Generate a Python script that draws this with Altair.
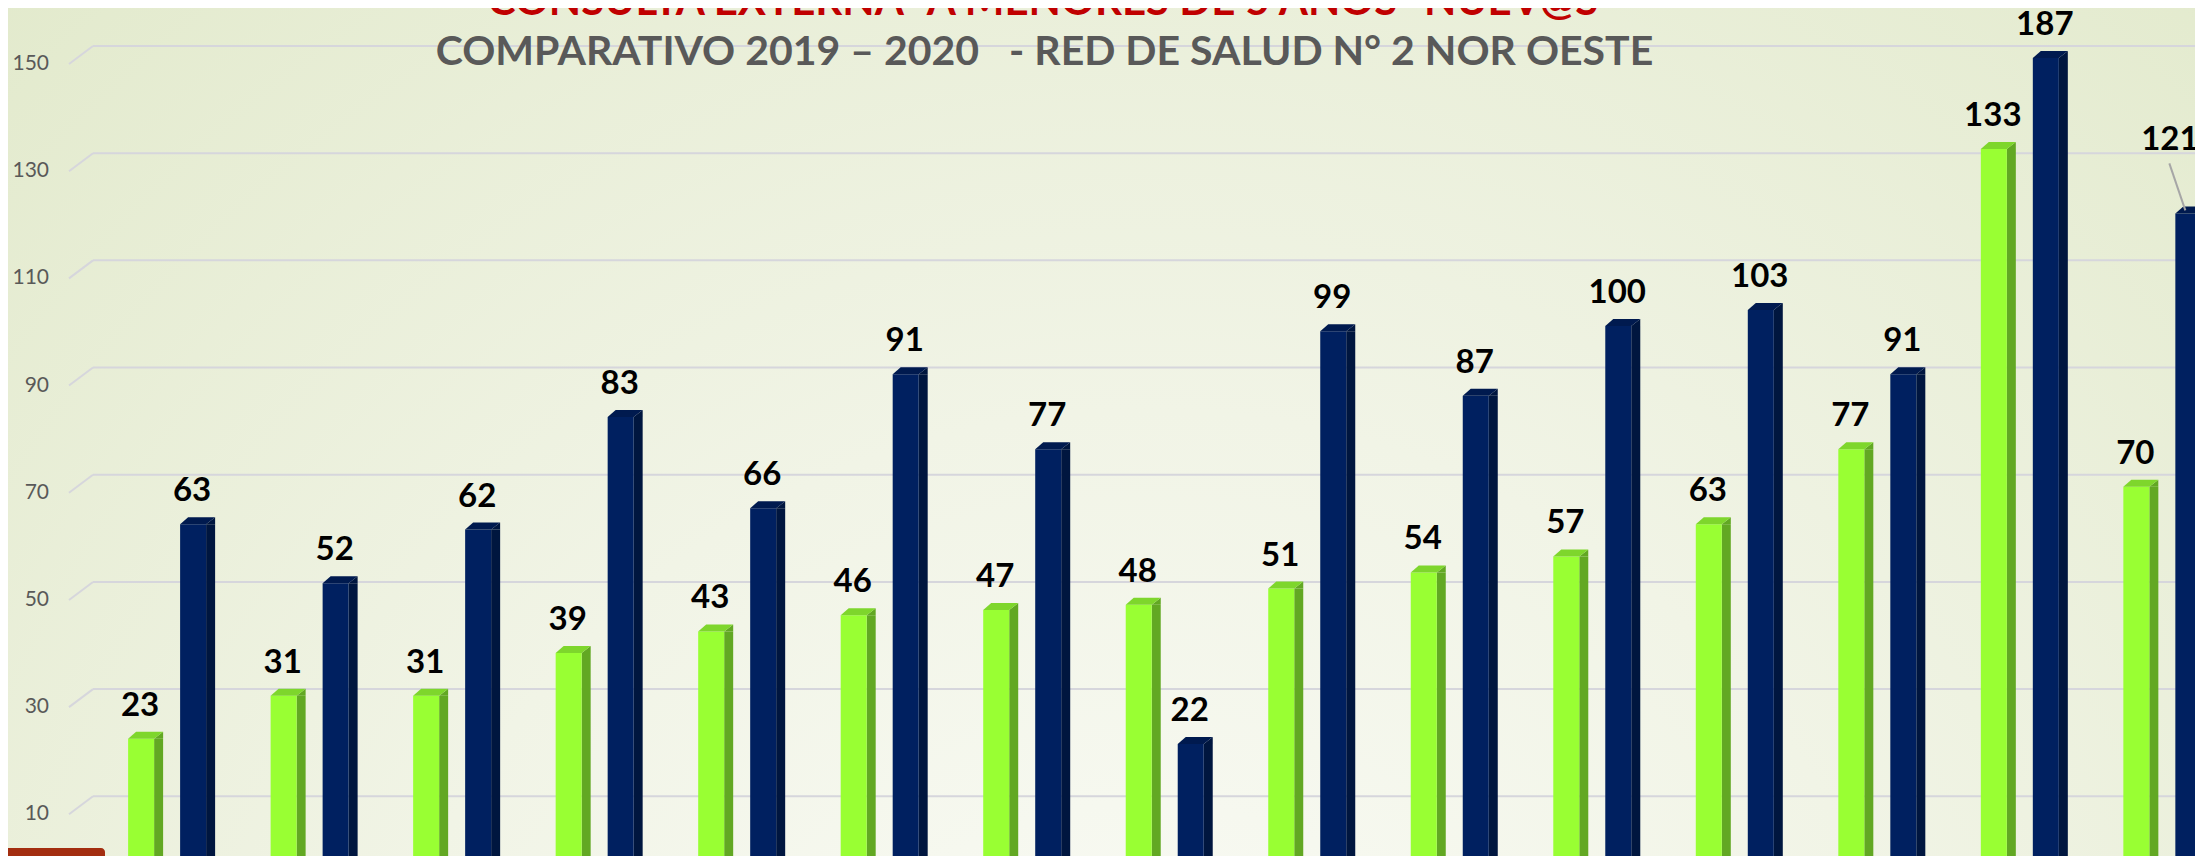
import altair as alt
import pandas as pd

# ---------------- data ----------------
groups = list(range(1, 16))
v2019 = [23, 31, 31, 39, 43, 46, 47, 48, 51, 54, 57, 63, 77, 133, 70]
v2020 = [63, 52, 62, 83, 66, 91, 77, 22, 99, 87, 100, 103, 91, 187, 121]
tick_values = [10, 30, 50, 70, 90, 110, 130, 150]
title_line1 = 'CONSULTA EXTERNA "A MENORES DE 5 AÑOS" NUEV@S'
title_line2 = "COMPARATIVO 2019 – 2020\u00a0\u00a0\u00a0- RED DE SALUD N° 2 NOR OESTE"

df19 = pd.DataFrame({"grp": groups, "value": v2019, "year": "2019"})
df20 = pd.DataFrame({"grp": groups, "value": v2020, "year": "2020"})
ticks_df = pd.DataFrame({"tick": tick_values})

# ---------------- layout / style ----------------
W, H = 2102, 798
FONT = "Lato"
GRID = "#d6d6dc"

x_enc = alt.X("grp:Q", scale=alt.Scale(domain=[0.487, 15.166], nice=False, zero=False), axis=None)
y_scale = alt.Scale(domain=[1.1, 150], nice=False, zero=False)


def yq(field):
    return alt.Y(field, scale=y_scale, axis=None)


TOP_PATH = "M -1 0 L 0.486 0 L 1 -0.4 L -0.543 -0.4 Z"
TRI_PATH = "M 0.486 0 L 1 -0.4 L 1 0 Z"


def series(df, front, side, top, off):
    base = alt.Chart(df).transform_calculate(vc="min(datum.value, 150)")
    side_bar = base.mark_bar(width=9, xOffset=off + 17.5, color=side).encode(
        x=x_enc, y=yq("vc:Q"), y2=alt.datum(0))
    front_bar = base.mark_bar(width=26, xOffset=off, color=front).encode(
        x=x_enc, y=yq("vc:Q"), y2=alt.datum(0))
    top_face = base.mark_point(shape=TOP_PATH, size=1225, filled=True, color=top,
                               opacity=1, strokeWidth=0, xOffset=off + 4.5).encode(
        x=x_enc, y=yq("vc:Q"))
    side_tri = base.mark_point(shape=TRI_PATH, size=1225, filled=True, color=side,
                               opacity=1, strokeWidth=0, xOffset=off + 4.5).encode(
        x=x_enc, y=yq("vc:Q"))
    return [side_bar, front_bar, side_tri, top_face]


LABEL_STYLE = dict(font=FONT, fontSize=33, fontWeight="bold", color="black",
                   baseline="alphabetic", align="center")


def labels(df, dx, flt=None):
    base = alt.Chart(df).transform_calculate(vc="min(datum.value, 150)")
    if flt is not None:
        base = base.transform_filter(flt)
    return base.mark_text(dx=dx, dy=-23, **LABEL_STYLE).encode(
        x=x_enc, y=yq("vc:Q"), text="value:Q")


bg = alt.Chart(pd.DataFrame({"a": [0]})).mark_rect(
    fill=alt.RadialGradient(gradient="radial", x1=0.52, y1=0.85, r1=0, x2=0.52, y2=0.85, r2=0.8,
                            stops=[alt.GradientStop(color="#fbfcf8", offset=0),
                                   alt.GradientStop(color="#f1f4e6", offset=0.45),
                                   alt.GradientStop(color="#e1e9ca", offset=1)])
).encode(x=alt.value(-85), x2=alt.value(W), y=alt.value(-50), y2=alt.value(H))

corner = alt.Chart(pd.DataFrame({"a": [0]})).mark_rect(
    color="#a32e10", cornerRadiusTopRight=6).encode(
    x=alt.value(-85), x2=alt.value(12), y=alt.value(H - 8), y2=alt.value(H))

grid = alt.Chart(ticks_df).mark_rule(color=GRID, strokeWidth=2, yOffset=-12).encode(
    x=alt.value(0), x2=alt.value(W), y=yq("tick:Q"))
diag = alt.Chart(ticks_df).mark_rule(color=GRID, strokeWidth=2, yOffset=6, y2Offset=-12).encode(
    x=alt.value(-24), x2=alt.value(0), y=yq("tick:Q"), y2="tick:Q")
ylabels = alt.Chart(ticks_df).mark_text(
    font=FONT, fontSize=21, color="#595959", align="right", baseline="middle", dy=6).encode(
    x=alt.value(-44), y=yq("tick:Q"), text="tick:Q")

t1 = alt.Chart(pd.DataFrame({"t": [title_line1]})).mark_text(
    font=FONT, fontSize=42, fontWeight="bold", color="#c00000", align="center",
    baseline="alphabetic").encode(text="t:N", x=alt.value(950), y=alt.value(-43))
t2 = alt.Chart(pd.DataFrame({"t": [title_line2]})).mark_text(
    font=FONT, fontSize=41, fontWeight="bold", color="#595959", align="center",
    baseline="alphabetic").encode(text="t:N", x=alt.value(951.5), y=alt.value(7))

green = series(df19, "#99ff33", "#62a823", "#7ed62c", -30)
navy = series(df20, "#002060", "#00163f", "#001a4f", 22)

lab19 = labels(df19, -31)
lab20 = labels(df20, 21, alt.datum.grp != 15)
lab20_special = alt.Chart(df20).transform_calculate(vc="min(datum.value, 150)").transform_filter(
    alt.datum.grp == 15).mark_text(dx=3.5, dy=-63, **LABEL_STYLE).encode(
    x=x_enc, y=yq("vc:Q"), text="value:Q")
leader = alt.Chart(df20).transform_calculate(vc="min(datum.value, 150)").transform_filter(
    alt.datum.grp == 15).mark_rule(color="#a6a6a6", strokeWidth=2, xOffset=3, x2Offset=19,
                                   yOffset=-50, y2Offset=-3).encode(
    x=x_enc, x2="grp:Q", y=yq("vc:Q"), y2="vc:Q")

chart = alt.layer(bg, grid, diag, ylabels, corner, *green, *navy, lab19, lab20, lab20_special,
                  leader, t1, t2).properties(
    width=W, height=H,
    autosize=alt.AutoSizeParams(type="none"),
    padding={"left": 85, "top": 50, "right": 0, "bottom": 0},
    background="#e3eacd",
).configure_view(strokeWidth=0)

chart.save("out.html", embed_options={"renderer": "svg", "actions": False})
